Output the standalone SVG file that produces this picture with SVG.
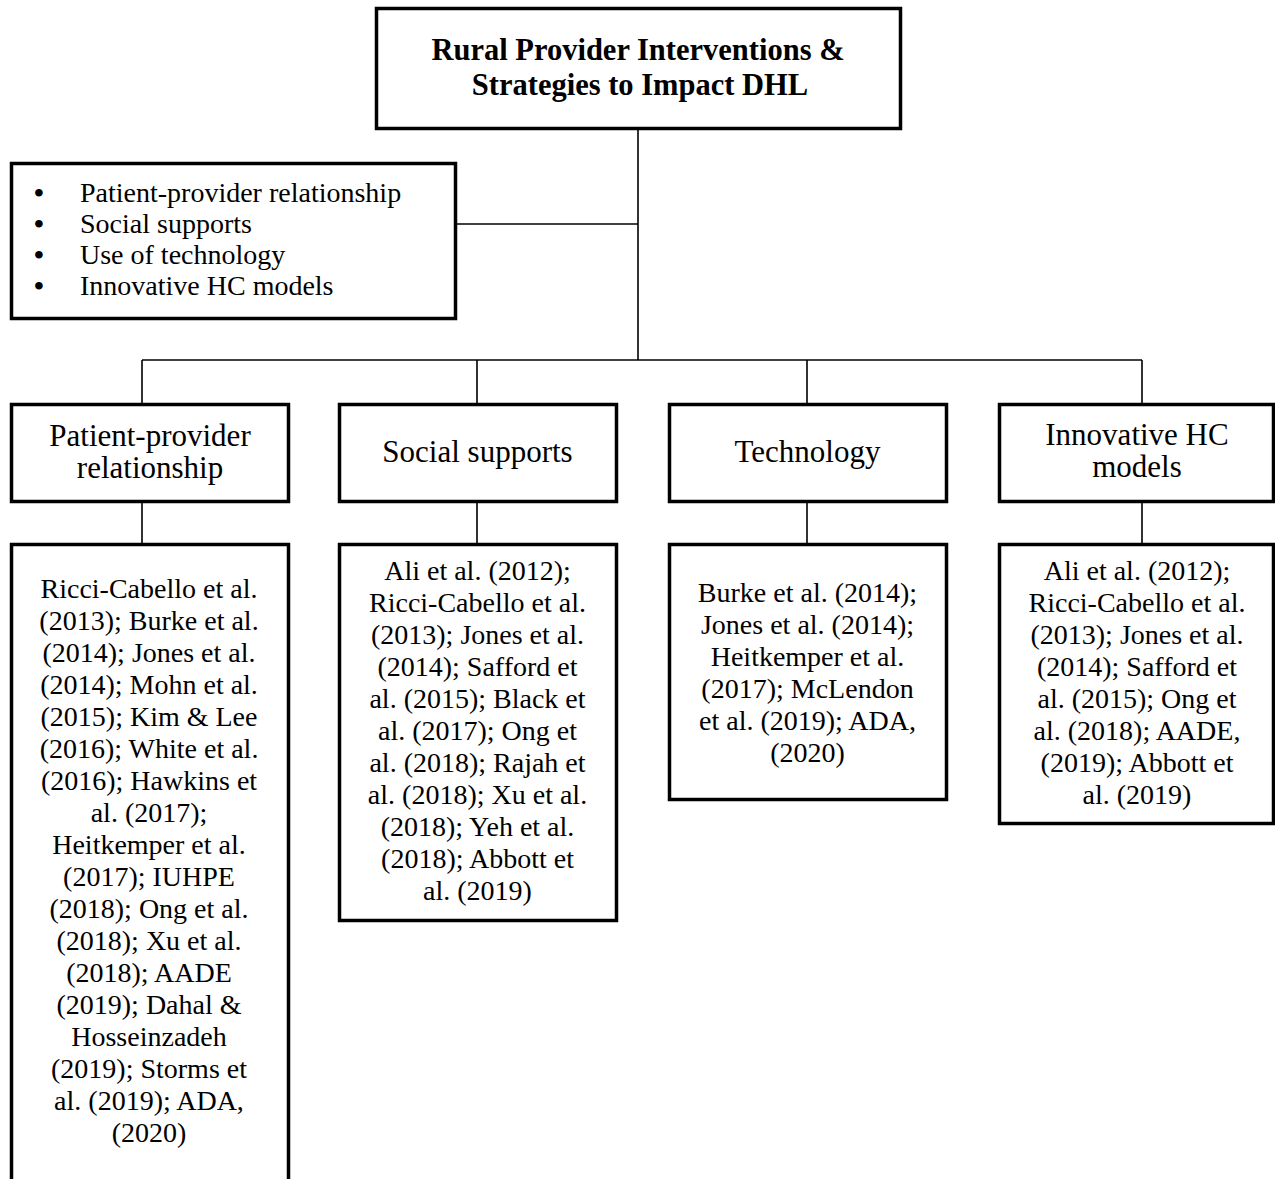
<svg xmlns="http://www.w3.org/2000/svg" width="1275" height="1179" viewBox="0 0 1275 1179">
<style>
.box{fill:#fff;stroke:#000;stroke-width:3.5}
.ln{fill:none;stroke:#000;stroke-width:1.6}
.t{font-family:"Liberation Serif","Times New Roman",serif;font-size:28px;fill:#000;text-anchor:middle}
.h{font-family:"Liberation Serif","Times New Roman",serif;font-size:31px;fill:#000;text-anchor:middle}
.b{font-family:"Liberation Serif","Times New Roman",serif;font-size:28px;fill:#000}
.dot{font-weight:bold}
.title{font-family:"Liberation Serif","Times New Roman",serif;font-size:30.5px;font-weight:bold;fill:#000;text-anchor:middle}
</style>
<rect width="1275" height="1179" fill="#fff"/>
<g id="connectors">
<path class="ln" d="M638,130 V360"/>
<path class="ln" d="M457,224 H638"/>
<path class="ln" d="M142,360 H1142"/>
<path class="ln" d="M142,360 V403 M477,360 V403 M807,360 V403 M1142,360 V403"/>
<path class="ln" d="M142,503 V543 M477,503 V543 M807,503 V543 M1142,503 V543"/>
</g>
<g id="root">
<rect class="box" x="376.5" y="8.5" width="524" height="120"/>
<text class="title" x="638" y="60">Rural Provider Interventions &amp;</text>
<text class="title" x="640" y="95">Strategies to Impact DHL</text>
</g>
<g id="summary">
<rect class="box" x="11.5" y="163.5" width="444" height="155"/>
<text class="b" y="202"><tspan class="dot" x="34">•</tspan><tspan x="80">Patient-provider relationship</tspan></text>
<text class="b" y="233"><tspan class="dot" x="34">•</tspan><tspan x="80">Social supports</tspan></text>
<text class="b" y="264"><tspan class="dot" x="34">•</tspan><tspan x="80">Use of technology</tspan></text>
<text class="b" y="295"><tspan class="dot" x="34">•</tspan><tspan x="80">Innovative HC models</tspan></text>
</g>
<g id="cat-patient">
<rect class="box" x="11.5" y="404.5" width="277" height="97"/>
<text class="h" x="150" y="446">Patient-provider</text>
<text class="h" x="150" y="478">relationship</text>
</g>
<g id="cat-social">
<rect class="box" x="339.5" y="404.5" width="277" height="97"/>
<text class="h" x="477.5" y="462">Social supports</text>
</g>
<g id="cat-tech">
<rect class="box" x="669.5" y="404.5" width="277" height="97"/>
<text class="h" x="807.5" y="462">Technology</text>
</g>
<g id="cat-innov">
<rect class="box" x="999.5" y="404.5" width="274" height="97"/>
<text class="h" x="1137" y="445">Innovative HC</text>
<text class="h" x="1137" y="477">models</text>
</g>
<g id="ref-patient">
<rect class="box" x="11.5" y="544.5" width="277" height="700"/>
<text class="t" x="149" y="598">Ricci-Cabello et al.</text>
<text class="t" x="149" y="630">(2013); Burke et al.</text>
<text class="t" x="149" y="662">(2014); Jones et al.</text>
<text class="t" x="149" y="694">(2014); Mohn et al.</text>
<text class="t" x="149" y="726">(2015); Kim &amp; Lee</text>
<text class="t" x="149" y="758">(2016); White et al.</text>
<text class="t" x="149" y="790">(2016); Hawkins et</text>
<text class="t" x="149" y="822">al. (2017);</text>
<text class="t" x="149" y="854">Heitkemper et al.</text>
<text class="t" x="149" y="886">(2017); IUHPE</text>
<text class="t" x="149" y="918">(2018); Ong et al.</text>
<text class="t" x="149" y="950">(2018); Xu et al.</text>
<text class="t" x="149" y="982">(2018); AADE</text>
<text class="t" x="149" y="1014">(2019); Dahal &amp;</text>
<text class="t" x="149" y="1046">Hosseinzadeh</text>
<text class="t" x="149" y="1078">(2019); Storms et</text>
<text class="t" x="149" y="1110">al. (2019); ADA,</text>
<text class="t" x="149" y="1142">(2020)</text>
</g>
<g id="ref-social">
<rect class="box" x="339.5" y="544.5" width="277" height="376"/>
<text class="t" x="477.5" y="580">Ali et al. (2012);</text>
<text class="t" x="477.5" y="612">Ricci-Cabello et al.</text>
<text class="t" x="477.5" y="644">(2013); Jones et al.</text>
<text class="t" x="477.5" y="676">(2014); Safford et</text>
<text class="t" x="477.5" y="708">al. (2015); Black et</text>
<text class="t" x="477.5" y="740">al. (2017); Ong et</text>
<text class="t" x="477.5" y="772">al. (2018); Rajah et</text>
<text class="t" x="477.5" y="804">al. (2018); Xu et al.</text>
<text class="t" x="477.5" y="836">(2018); Yeh et al.</text>
<text class="t" x="477.5" y="868">(2018); Abbott et</text>
<text class="t" x="477.5" y="900">al. (2019)</text>
</g>
<g id="ref-tech">
<rect class="box" x="669.5" y="544.5" width="277" height="255"/>
<text class="t" x="807.5" y="602">Burke et al. (2014);</text>
<text class="t" x="807.5" y="634">Jones et al. (2014);</text>
<text class="t" x="807.5" y="666">Heitkemper et al.</text>
<text class="t" x="807.5" y="698">(2017); McLendon</text>
<text class="t" x="807.5" y="730">et al. (2019); ADA,</text>
<text class="t" x="807.5" y="762">(2020)</text>
</g>
<g id="ref-innov">
<rect class="box" x="999.5" y="544.5" width="274" height="279"/>
<text class="t" x="1137" y="580">Ali et al. (2012);</text>
<text class="t" x="1137" y="612">Ricci-Cabello et al.</text>
<text class="t" x="1137" y="644">(2013); Jones et al.</text>
<text class="t" x="1137" y="676">(2014); Safford et</text>
<text class="t" x="1137" y="708">al. (2015); Ong et</text>
<text class="t" x="1137" y="740">al. (2018); AADE,</text>
<text class="t" x="1137" y="772">(2019); Abbott et</text>
<text class="t" x="1137" y="804">al. (2019)</text>
</g>
</svg>
